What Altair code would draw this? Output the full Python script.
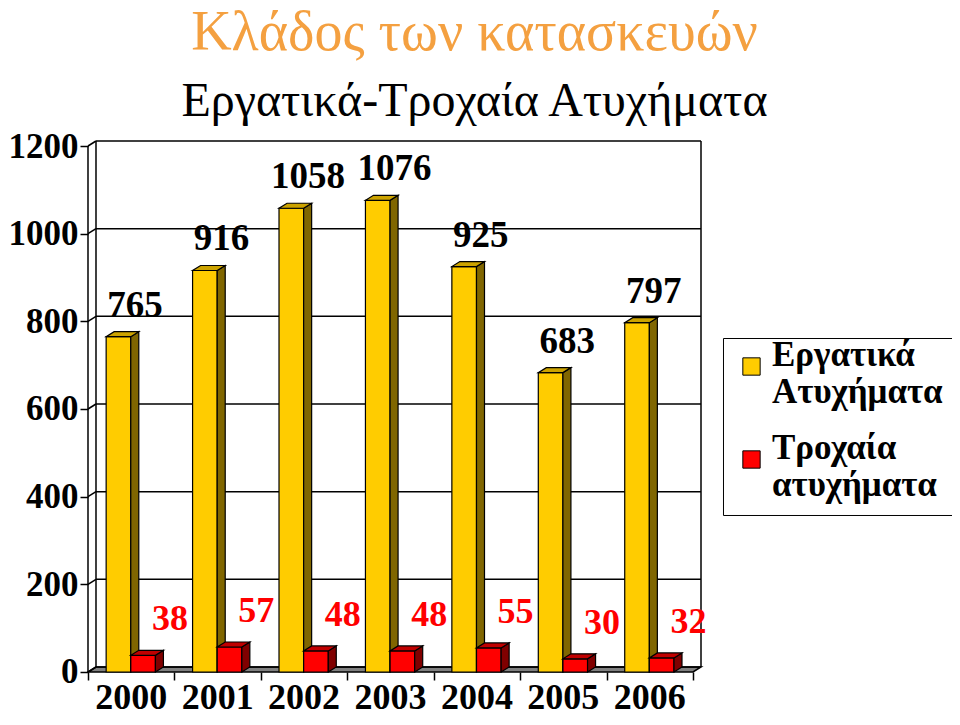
import altair as alt
import pandas as pd

# ---------------- data ----------------
years = ["2000", "2001", "2002", "2003", "2004", "2005", "2006"]
work_accidents = [765, 916, 1058, 1076, 925, 683, 797]
road_accidents = [38, 57, 48, 48, 55, 30, 32]
series_names = ["Εργατικά Ατυχήματα", "Τροχαία ατυχήματα"]
y_ticks = [0, 200, 400, 600, 800, 1000, 1200]

# ---------------- layout / style ----------------
CAT_PX = 86.43          # width of one category in px
DEPTH_PX_X = 8          # 3-D depth, horizontal px
DEPTH_PX_Y = 5          # 3-D depth, vertical px
Y_MAX = 1200
FRONT_H = 526           # px for 0..1200 on the front plane
N = len(years)
DX = DEPTH_PX_X / CAT_PX
DY = DEPTH_PX_Y * Y_MAX / FRONT_H
W = N * CAT_PX + DEPTH_PX_X
H = FRONT_H + DEPTH_PX_Y
SLOTS = [(0.21, 0.495), (0.495, 0.78)]
FRONT_COL = ["#FFCC00", "#FF0000"]
SIDE_COL = ["#806600", "#800000"]
TOP_COL = ["#CCA300", "#C00000"]
SERIF = "Liberation Serif"

xscale = alt.Scale(domain=[0, N + DX], nice=False, zero=False)
yscale = alt.Scale(domain=[0, Y_MAX + DY], nice=False, zero=False)
X_AX = alt.Axis(values=list(range(N + 1)), labels=False, domain=False, grid=False,
                tickSize=8, tickColor="black", tickWidth=1.5, title=None)
Y_AX = alt.Axis(values=y_ticks, format="d", domain=False, grid=False, tickSize=8,
                tickColor="black", tickWidth=1.5, title=None, labelFont=SERIF,
                labelFontWeight="bold", labelFontSize=35, labelColor="black", labelPadding=2)


def X(f="x"):
    return alt.X(f"{f}:Q", scale=xscale, axis=X_AX)


def Y(f="y"):
    return alt.Y(f"{f}:Q", scale=yscale, axis=Y_AX)


# ---------------- frame (walls, floor, grid) ----------------
rules = []
for v in y_ticks:
    rules.append(dict(x=DX, x2=N + DX, y=v + DY, y2=v + DY))   # back-wall grid
    rules.append(dict(x=0, x2=DX, y=v, y2=v + DY))             # side-wall diagonal
rules.append(dict(x=DX, x2=DX, y=DY, y2=Y_MAX + DY))
rules.append(dict(x=N + DX, x2=N + DX, y=DY, y2=Y_MAX + DY))
rules.append(dict(x=0, x2=0, y=0, y2=Y_MAX))
rules_df = pd.DataFrame(rules)

frame = alt.Chart(rules_df).mark_rule(color="black", strokeWidth=1.5).encode(
    x=X(), x2="x2:Q", y=Y(), y2="y2:Q")

floor_df = pd.DataFrame([
    dict(x=0, y=0, y2=0), dict(x=DX, y=0, y2=DY),
    dict(x=N, y=0, y2=DY), dict(x=N + DX, y=DY, y2=DY)])
floor = alt.Chart(floor_df).mark_area(orient="vertical", fill="#808080", stroke="black",
                                      strokeWidth=1.5).encode(x=X(), y=Y(), y2="y2:Q")


# ---------------- 3-D bars ----------------
def bar_layers(values, k):
    l, r = SLOTS[k]
    front, side, top = [], [], []
    for i, v in enumerate(values):
        xl, xr = i + l, i + r
        front.append(dict(id=i, x=xl, x2=xr, y=0, y2=v, series=series_names[k]))
        side += [dict(id=i, x=xr, y=0, y2=v), dict(id=i, x=xr + DX, y=DY, y2=v + DY)]
        top += [dict(id=i, x=xl, y=v, y2=v), dict(id=i, x=xl + DX, y=v, y2=v + DY),
                dict(id=i, x=xr, y=v, y2=v + DY), dict(id=i, x=xr + DX, y=v + DY, y2=v + DY)]
    f = alt.Chart(pd.DataFrame(front)).mark_rect(stroke="black", strokeWidth=1.2).encode(
        x=X(), x2="x2:Q", y=Y(), y2="y2:Q",
        fill=alt.Fill("series:N", scale=alt.Scale(domain=series_names, range=FRONT_COL),
                      legend=alt.Legend(
                          title=None, orient="none", legendX=635, legendY=197,
                          symbolType="square", symbolSize=300, symbolStrokeColor="black",
                          symbolStrokeWidth=1, labelFont=SERIF, labelFontWeight="bold",
                          labelFontSize=35, labelColor="black", labelLimit=400,
                          labelExpr="split(datum.label, ' ')", labelBaseline="alphabetic",
                          labelOffset=3, rowPadding=20, padding=11,
                          strokeColor="black", fillColor="white")))
    s = alt.Chart(pd.DataFrame(side)).mark_area(
        orient="vertical", fill=SIDE_COL[k], stroke="black", strokeWidth=1.2).encode(
        x=X(), y=Y(), y2="y2:Q", detail="id:N")
    t = alt.Chart(pd.DataFrame(top)).mark_area(
        orient="vertical", fill=TOP_COL[k], stroke="black", strokeWidth=1.2).encode(
        x=X(), y=Y(), y2="y2:Q", detail="id:N")
    return [f, s, t]


# ---------------- labels ----------------
work_lab = pd.DataFrame(dict(x=[i + SLOTS[0][1] + 0.05 for i in range(N)],
                             y=work_accidents, t=[str(v) for v in work_accidents]))
road_lab = pd.DataFrame(dict(x=[i + (SLOTS[1][0] + SLOTS[1][1]) / 2 + 0.31 for i in range(N)],
                             y=road_accidents, t=[str(v) for v in road_accidents]))
year_lab = pd.DataFrame(dict(x=[i + 0.5 for i in range(N)], y=[0] * N, t=years))

work_text = alt.Chart(work_lab).mark_text(
    font=SERIF, fontWeight="bold", fontSize=37, color="black", baseline="alphabetic",
    dy=-20).encode(x=X(), y=Y(), text="t:N")
road_text = alt.Chart(road_lab).mark_text(
    font=SERIF, fontWeight="bold", fontSize=36, color="#FF0000", baseline="alphabetic",
    dy=-25).encode(x=X(), y=Y(), text="t:N")
year_text = alt.Chart(year_lab).mark_text(
    font=SERIF, fontWeight="bold", fontSize=36, color="black", baseline="alphabetic",
    dy=37).encode(x=X(), y=Y(), text="t:N")

layers = [floor, frame] + bar_layers(work_accidents, 0) + bar_layers(road_accidents, 1) + \
    [work_text, road_text, year_text]

chart = alt.layer(*layers).properties(
    width=W, height=H,
    autosize=alt.AutoSizeParams(type="none"),
    padding={"left": 80, "top": 133, "right": 251, "bottom": 45},
    title=alt.TitleParams(
        text="Κλάδος των κατασκευών", subtitle="Εργατικά-Τροχαία Ατυχήματα",
        font=SERIF, fontSize=56, fontWeight="normal", color="#F4A040",
        subtitleFont=SERIF, subtitleFontSize=48, subtitleColor="black",
        anchor="middle", dx=80, offset=2, subtitlePadding=16),
).configure_view(stroke=None)

chart.save("out.html", embed_options={"renderer": "svg", "actions": False})
